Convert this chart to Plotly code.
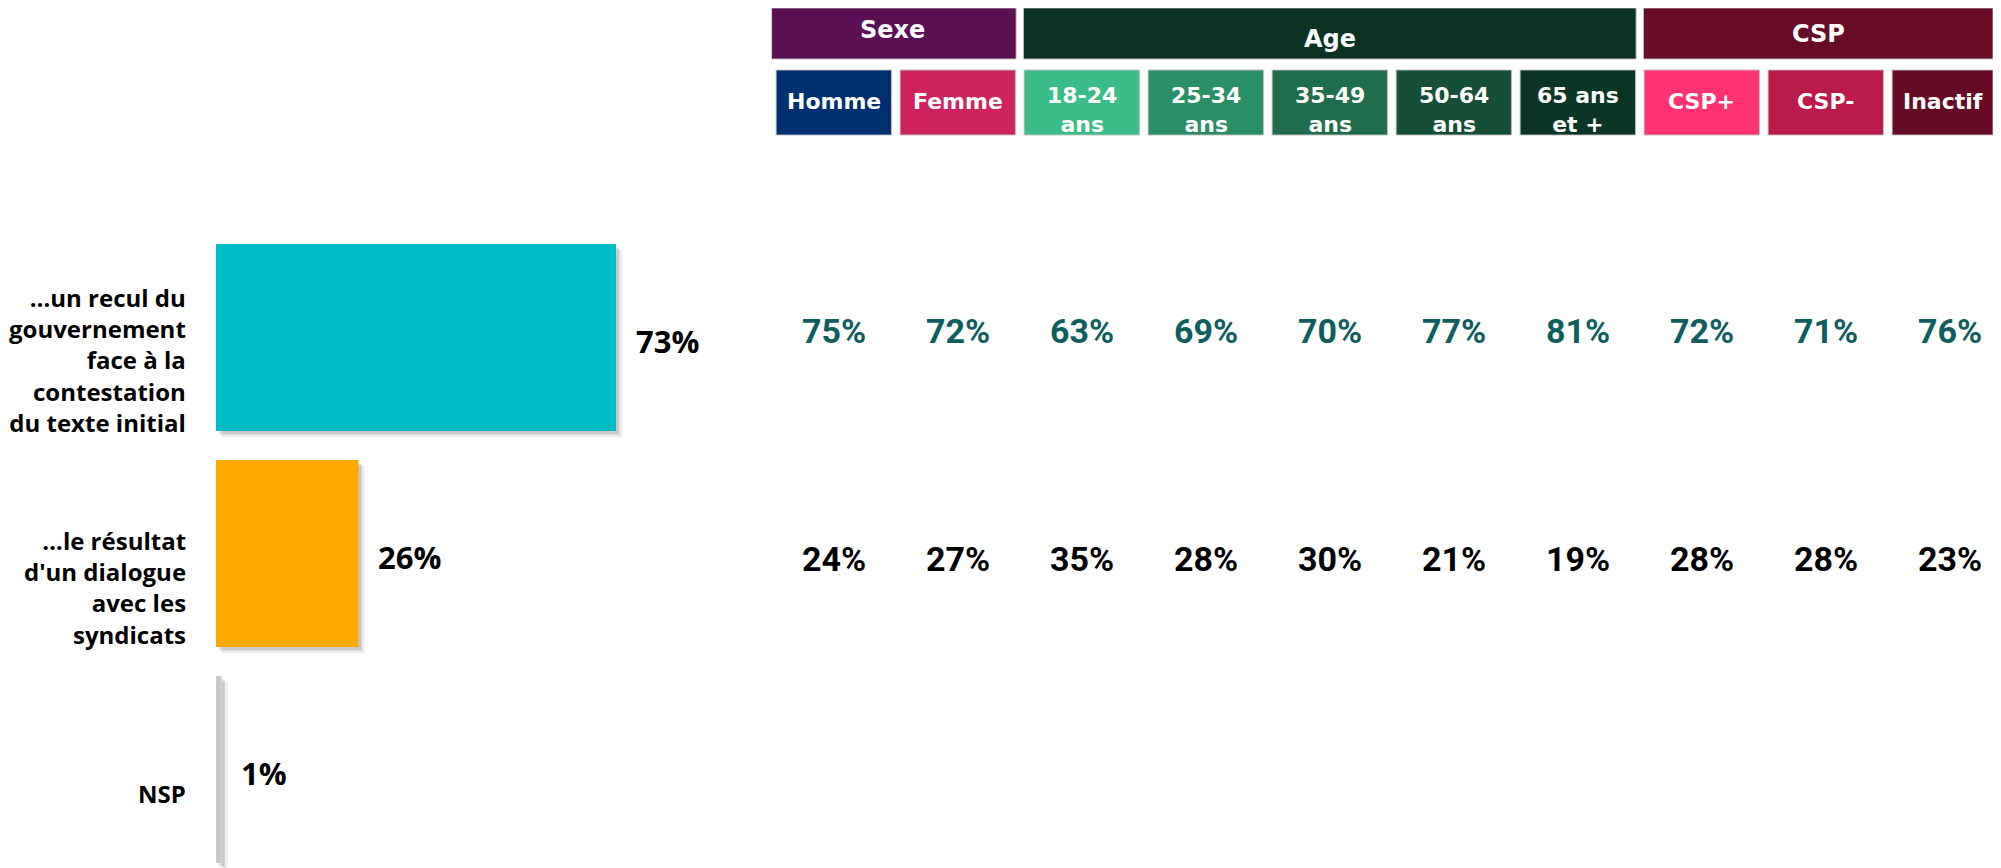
import plotly.graph_objects as go

# ---------------- data ----------------
categories = [
    "…un recul du<br>gouvernement<br>face à la<br>contestation<br>du texte initial",
    "…le résultat<br>d'un dialogue<br>avec les<br>syndicats",
    "NSP",
]
totals = [73, 26, 1]

groups = ["Sexe", "Age", "CSP"]
group_sizes = [2, 5, 3]
subgroups = ["Homme", "Femme", "18-24<br>ans", "25-34<br>ans", "35-49<br>ans",
             "50-64<br>ans", "65 ans<br>et +", "CSP+", "CSP-", "Inactif"]
recul_values = [75, 72, 63, 69, 70, 77, 81, 72, 71, 76]
dialogue_values = [24, 27, 35, 28, 30, 21, 19, 28, 28, 23]

# ---------------- styles ----------------
bar_colors = ["#00BAC4", "#FFA800", "#C8C8C8"]
group_colors = ["#5B1056", "#0A3323", "#680B25"]
sub_colors = ["#00306F", "#CF2360", "#3BBD89", "#2A8F67", "#1F6D4C",
              "#154F38", "#0B3525", "#FF3371", "#BA1B4A", "#660B25"]
row_colors = ["#0F5E5E", "#000000"]
row_yshift = [7, -5]
label_yshift = [-22, -34, -24]
group_text_yshift = [4, -5, 0]

W, H = 2001, 868
OFF = 8  # page body margin
label_font = "'Open Sans', Lato, sans-serif"
table_font = "Roboto, 'Liberation Sans', Arial, sans-serif"
head_font = "'DejaVu Sans', Verdana, sans-serif"


def fx(p):  # page x pixel -> fraction of figure width
    return (p - OFF) / W


def fy(p):  # page y pixel -> paper y
    return 1 - (p - OFF) / H


bar_w = 0.866
fig = go.Figure()

# soft shadow layers behind bars
for dx, dy, a in [(1.1, 0.028, 0.08), (0.6, 0.016, 0.14)]:
    fig.add_trace(go.Bar(
        y=categories, x=totals, base=dx, orientation="h",
        width=bar_w, offset=-bar_w / 2 + dy,
        marker=dict(color=f"rgba(0,0,0,{a})", line=dict(width=0)),
        hoverinfo="skip", showlegend=False,
    ))

fig.add_trace(go.Bar(
    y=categories, x=totals, orientation="h",
    width=bar_w, offset=-bar_w / 2,
    marker=dict(color=bar_colors, line=dict(width=0)),
    showlegend=False,
))

annotations = []
# table values
for r, (vals, col, cat) in enumerate([(recul_values, row_colors[0], categories[0]),
                                       (dialogue_values, row_colors[1], categories[1])]):
    for sg, v in zip(subgroups, vals):
        annotations.append(dict(
            x=sg, y=cat, xref="x2", yref="y", text=f"{v}%", showarrow=False,
            xanchor="center", yanchor="middle", yshift=row_yshift[r],
            font=dict(family=table_font, size=34, color=col, weight="bold"),
        ))

# category labels
for cat, ys in zip(categories, label_yshift):
    annotations.append(dict(
        x=0, y=cat, xref="x", yref="y", text=cat, showarrow=False,
        xanchor="right", yanchor="middle", align="right",
        xshift=-28, yshift=ys,
        font=dict(family=label_font, size=24, color="#000000", weight="bold"),
    ))
# value labels
for cat, v in zip(categories, totals):
    annotations.append(dict(
        x=v, y=cat, xref="x", yref="y", text=f"{v}%", showarrow=False,
        xanchor="left", yanchor="middle", xshift=18, yshift=-3,
        font=dict(family=label_font, size=31, color="#000000", weight="bold"),
    ))

# column grid for the header/table area (page pixels)
col0_center = 833.8
col_pitch = 124.0
x2_min = -0.5
x2_max = (W + OFF - col0_center) / col_pitch
x2_dom_left = fx(col0_center - 0.5 * col_pitch)
clip_r = (1993 - col0_center) / col_pitch

g_top, g_bot = min(1.0, fy(6)), fy(59)
s_top, s_bot = fy(70), fy(135)
shapes = []
start = 0
for k, (g, n, col) in enumerate(zip(groups, group_sizes, group_colors)):
    x0 = start - (0.53 if start == 0 else 0.47)
    x1 = min(start + n - 1 + 0.47, clip_r)
    shapes.append(dict(type="rect", xref="x2", yref="paper", x0=x0, x1=x1,
                       y0=g_bot, y1=g_top, fillcolor=col,
                       line=dict(color="rgba(190,190,190,0.9)", width=1), layer="above"))
    annotations.append(dict(x=(x0 + x1) / 2, y=(g_top + g_bot) / 2, xref="x2", yref="paper",
                            text=f"<b>{g}</b>", showarrow=False, xanchor="center", yanchor="middle",
                            yshift=group_text_yshift[k],
                            font=dict(family=head_font, size=24, color="#FFFFFF")))
    start += n
for i, (s, col) in enumerate(zip(subgroups, sub_colors)):
    x0 = i - 0.465
    x1 = min(i + 0.465, clip_r)
    shapes.append(dict(type="rect", xref="x2", yref="paper", x0=x0, x1=x1,
                       y0=s_bot, y1=s_top, fillcolor=col,
                       line=dict(color="rgba(190,190,190,0.9)", width=1), layer="above"))
    annotations.append(dict(x=(x0 + x1) / 2, y=(s_top + s_bot) / 2, xref="x2", yref="paper",
                            text=f"<b>{s}</b>", showarrow=False, xanchor="center", yanchor="middle",
                            yshift=(-7 if "<br>" in s else 1),
                            font=dict(family=head_font, size=22, color="#FFFFFF")))

px_per_pct = 5.479
x_dom = [fx(216), 0.38]
x_range_max = (x_dom[1] - x_dom[0]) * W / px_per_pct

cat_pitch = 216.0
y_top_page = 229.5
y_dom_top = fy(y_top_page)
y_range_bottom = -0.5 + (H - (y_top_page - OFF)) / cat_pitch

fig.update_layout(
    width=W, height=H,
    margin=dict(l=0, r=0, t=0, b=0),
    paper_bgcolor="white", plot_bgcolor="white",
    barmode="overlay",
    xaxis=dict(domain=x_dom, range=[0, x_range_max], visible=False, fixedrange=True),
    xaxis2=dict(domain=[x2_dom_left, 1.0], range=[x2_min, x2_max], type="category",
                categoryarray=subgroups, anchor="y", visible=False),
    yaxis=dict(domain=[0, y_dom_top], type="category", categoryarray=categories,
               range=[y_range_bottom, -0.5], autorange=False, visible=False),
    shapes=shapes,
    annotations=annotations,
    showlegend=False,
)

fig.write_html("out.html")
